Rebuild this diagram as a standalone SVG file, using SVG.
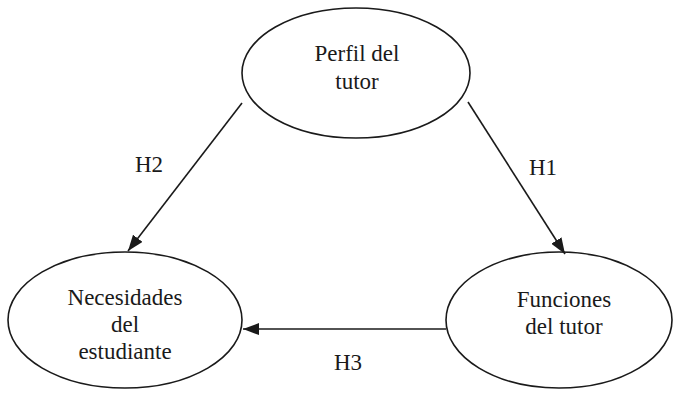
<svg xmlns="http://www.w3.org/2000/svg" width="673" height="397" viewBox="0 0 673 397">
<style>
.n{fill:#fff;stroke:#1a1a1a;stroke-width:1.6}
.t{font-family:"Liberation Serif","Times New Roman",serif;font-size:23px;fill:#1a1a1a;text-anchor:middle}
.c{stroke:#1a1a1a;stroke-width:1.6;fill:none;marker-end:url(#ah)}
</style>
<defs>
<marker id="ah" viewBox="0 0 16 12" refX="16" refY="6" markerWidth="16" markerHeight="12" markerUnits="userSpaceOnUse" orient="auto">
<path d="M0,0 L16,6 L0,12 Z" fill="#1a1a1a"/>
</marker>
</defs>
<rect width="673" height="397" fill="#fff"/>
<g id="perfil">
<ellipse class="n" cx="356" cy="73" rx="114" ry="65"/>
<text class="t" x="357" y="61">Perfil del</text>
<text class="t" x="357" y="89">tutor</text>
</g>
<g id="necesidades">
<ellipse class="n" cx="125" cy="320" rx="117" ry="68"/>
<text class="t" x="125" y="305">Necesidades</text>
<text class="t" x="125" y="332">del</text>
<text class="t" x="125" y="359">estudiante</text>
</g>
<g id="funciones">
<ellipse class="n" cx="559" cy="320" rx="113" ry="68"/>
<text class="t" x="564" y="307">Funciones</text>
<text class="t" x="564" y="334">del tutor</text>
</g>
<g id="connectors">
<line class="c" x1="242" y1="103" x2="128" y2="251"/>
<line class="c" x1="468" y1="102" x2="565" y2="254"/>
<line class="c" x1="446" y1="329" x2="243" y2="329"/>
<text class="t" x="149" y="172">H2</text>
<text class="t" x="543" y="175">H1</text>
<text class="t" x="348" y="370">H3</text>
</g>
</svg>
